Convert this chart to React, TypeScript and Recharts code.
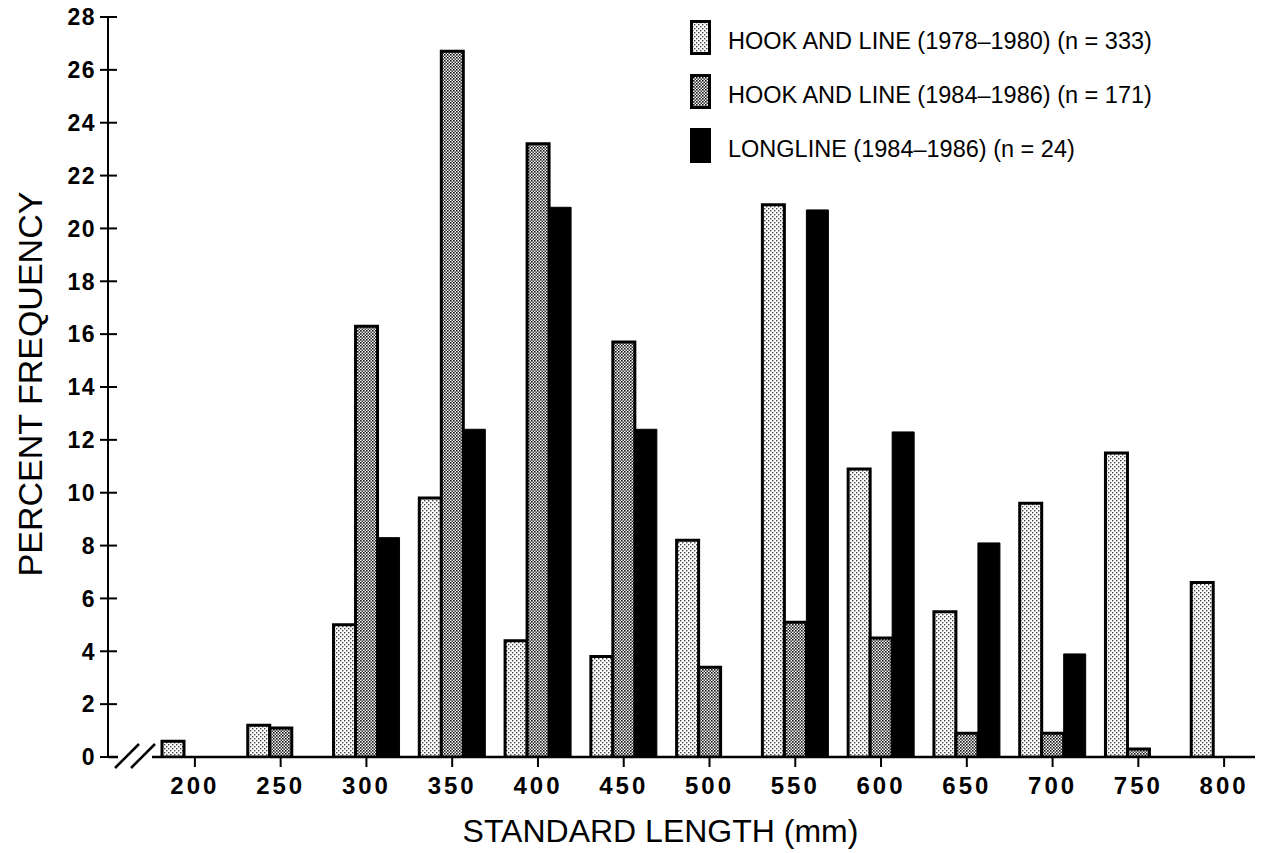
import { BarChart, Bar, XAxis, YAxis, Legend } from 'recharts'

const lengths = ['200', '250', '300', '350', '400', '450', '500', '550', '600', '650', '700', '750', '800']
const hookLine7880 = [0.6, 1.2, 5.0, 9.8, 4.4, 3.8, 8.2, 20.9, 10.9, 5.5, 9.6, 11.5, 6.6]
const hookLine8486 = [0, 1.1, 16.3, 26.7, 23.2, 15.7, 3.4, 5.1, 4.5, 0.9, 0.9, 0.3, 0]
const longline8486 = [0, 0, 8.3, 12.4, 20.8, 12.4, 0, 20.7, 12.3, 8.1, 3.9, 0, 0]
const yTicks = [0, 2, 4, 6, 8, 10, 12, 14, 16, 18, 20, 22, 24, 26, 28]

const seriesNames = [
  'HOOK AND LINE (1978–1980) (n = 333)',
  'HOOK AND LINE (1984–1986) (n = 171)',
  'LONGLINE (1984–1986) (n = 24)',
]

const data = lengths.map((len, i) => ({
  len,
  a: hookLine7880[i],
  b: hookLine8486[i],
  c: longline8486[i],
}))

const FONT = '"Liberation Sans", Arial, Helvetica, sans-serif'
const W = 1268
const H = 853
const LEFT = 108
const RIGHT = 1255
const TOP = 17
const BOTTOM = 757

const fills = ['url(#lightDots)', 'url(#darkDots)', '#000']

function YTick(props: any) {
  const { x, y, payload } = props
  return (
    <g>
      <line x1={LEFT - 8} x2={LEFT + 9} y1={y} y2={y} stroke="#000" strokeWidth={2} />
      <text
        x={x + 1}
        y={y}
        dy="0.36em"
        textAnchor="end"
        fontFamily={FONT}
        fontWeight="bold"
        fontSize={23}
        letterSpacing={1.5}
        fill="#000"
      >
        {payload.value}
      </text>
    </g>
  )
}

function LegendBox() {
  return (
    <div style={{ fontFamily: FONT, color: '#000' }}>
      {seriesNames.map((name, i) => (
        <div
          key={name}
          style={{ display: 'flex', alignItems: 'flex-end', marginBottom: 19 }}
        >
          <svg width={21} height={35}>
            <rect
              x={1.5}
              y={1.5}
              width={18}
              height={32}
              fill={fills[i]}
              stroke="#000"
              strokeWidth={3}
            />
          </svg>
          <span
            style={{
              fontSize: 23.5,
              lineHeight: 1,
              marginLeft: 17,
              paddingBottom: 2,
              whiteSpace: 'nowrap',
            }}
          >
            {name}
          </span>
        </div>
      ))}
    </div>
  )
}

export default function App() {
  return (
    <div style={{ position: 'absolute', left: 0, top: 0, width: W, height: H, background: '#fff' }}>
      <BarChart
        width={W}
        height={H}
        data={data}
        margin={{ top: TOP, right: W - RIGHT, bottom: 0, left: 0 }}
        barSize={22}
        barGap={0}
      >
        <defs>
          <pattern id="lightDots" width={4} height={4} patternUnits="userSpaceOnUse">
            <rect width={4} height={4} fill="#fff" />
            <rect x={0} y={0} width={1.4} height={1.4} fill="#444" />
            <rect x={2} y={2} width={1.4} height={1.4} fill="#444" />
          </pattern>
          <pattern id="darkDots" width={3} height={3} patternUnits="userSpaceOnUse">
            <rect width={3} height={3} fill="#fff" />
            <rect x={0} y={0} width={1.6} height={1.6} fill="#111" />
            <rect x={1.5} y={1.5} width={1.5} height={1.5} fill="#333" />
          </pattern>
        </defs>
        <XAxis
          dataKey="len"
          height={H - BOTTOM}
          padding={{ left: 44, right: -12 }}
          axisLine={false}
          tickLine={{ stroke: '#000', strokeWidth: 2 }}
          tickSize={10}
          tickMargin={10}
          interval={0}
          tick={{ fill: '#000', fontSize: 24, fontWeight: 'bold', fontFamily: FONT, letterSpacing: 3 }}
          label={{
            content: ({ viewBox }: any) => (
              <text
                x={viewBox.x + viewBox.width / 2 - 21}
                y={H - 11}
                textAnchor="middle"
                fontFamily={FONT}
                fontSize={32}
                fill="#000"
              >
                STANDARD LENGTH (mm)
              </text>
            ),
          }}
        />
        <YAxis
          width={LEFT}
          domain={[0, 28]}
          ticks={yTicks}
          interval={0}
          allowDataOverflow
          axisLine={{ stroke: '#000', strokeWidth: 2 }}
          tickLine={false}
          tickSize={8}
          tickMargin={5}
          tick={<YTick />}
          label={{
            content: () => (
              <text
                x={30}
                y={(TOP + BOTTOM) / 2 - 3}
                transform={`rotate(-90, 30, ${(TOP + BOTTOM) / 2 - 3})`}
                textAnchor="middle"
                dominantBaseline="central"
                fontFamily={FONT}
                fontSize={34}
                fill="#000"
              >
                PERCENT FREQUENCY
              </text>
            ),
          }}
        />
        <Legend
          layout="vertical"
          align="center"
          verticalAlign="middle"
          content={<LegendBox />}
          wrapperStyle={{ top: 20, left: 690, width: 570, height: 170 }}
        />
        <Bar dataKey="a" name={seriesNames[0]} fill={fills[0]} stroke="#000" strokeWidth={3} isAnimationActive={false} />
        <Bar dataKey="b" name={seriesNames[1]} fill={fills[1]} stroke="#000" strokeWidth={3} isAnimationActive={false} />
        <Bar dataKey="c" name={seriesNames[2]} fill={fills[2]} stroke="#000" strokeWidth={1} isAnimationActive={false} />
        {/* x axis baseline with the axis break */}
        <g stroke="#000" strokeWidth={2.5} fill="none">
          <line x1={LEFT} x2={118} y1={BOTTOM} y2={BOTTOM} />
          <line x1={115} x2={139} y1={BOTTOM + 11} y2={BOTTOM - 13} />
          <line x1={131} x2={155} y1={BOTTOM + 11} y2={BOTTOM - 13} />
          <line x1={152} x2={RIGHT} y1={BOTTOM} y2={BOTTOM} />
        </g>
      </BarChart>
    </div>
  )
}
